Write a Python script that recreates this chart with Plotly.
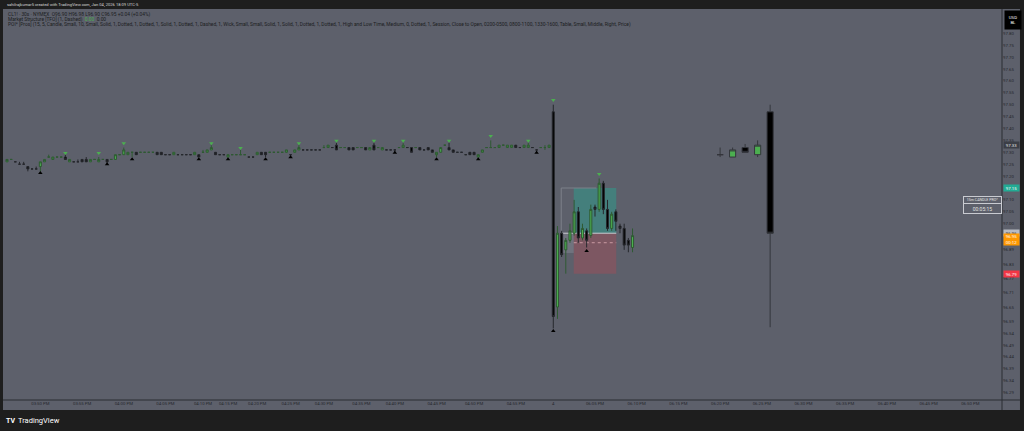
import plotly.graph_objects as go

# ---------------- data ----------------
# 30s bars before the session break (bar index -131 .. -1)
pre_open = [97.26, 97.27, 97.26, 97.25, 97.25, 97.24, 97.23, 97.23, 97.24, 97.26,
            97.28, 97.27, 97.28, 97.28, 97.28, 97.26, 97.26, 97.26, 97.27, 97.27,
            97.26, 97.27, 97.26, 97.27, 97.27, 97.27, 97.27, 97.29, 97.29, 97.29,
            97.30, 97.30, 97.30, 97.30, 97.30, 97.30, 97.30, 97.30, 97.29, 97.29,
            97.29, 97.29, 97.29, 97.29, 97.29, 97.29, 97.29, 97.30, 97.30, 97.31,
            97.30, 97.29, 97.29, 97.28, 97.29, 97.29, 97.29, 97.29, 97.28, 97.28,
            97.29, 97.30, 97.30, 97.30, 97.30, 97.30, 97.30, 97.30, 97.29, 97.30,
            97.31, 97.31, 97.31, 97.31, 97.31, 97.31, 97.32, 97.32, 97.32, 97.33,
            97.32, 97.32, 97.32, 97.32, 97.32, 97.32, 97.32, 97.31, 97.33, 97.32,
            97.31, 97.31, 97.31, 97.31, 97.32, 97.32, 97.32, 97.32, 97.32, 97.32,
            97.31, 97.32, 97.31, 97.29, 97.30, 97.33, 97.32, 97.31, 97.30, 97.30,
            97.29, 97.30, 97.30, 97.28, 97.30, 97.32, 97.32, 97.32, 97.32, 97.33,
            97.32, 97.32, 97.33, 97.32, 97.32, 97.32, 97.32, 97.31, 97.32, 97.32,
            97.32]
pre_high = [97.27, 97.27, 97.26, 97.26, 97.26, 97.24, 97.23, 97.24, 97.26, 97.27,
            97.29, 97.28, 97.28, 97.28, 97.29, 97.27, 97.26, 97.27, 97.27, 97.28,
            97.27, 97.27, 97.28, 97.27, 97.27, 97.27, 97.29, 97.29, 97.32, 97.30,
            97.30, 97.30, 97.30, 97.30, 97.30, 97.30, 97.30, 97.30, 97.29, 97.29,
            97.30, 97.29, 97.29, 97.29, 97.29, 97.30, 97.29, 97.31, 97.31, 97.33,
            97.30, 97.29, 97.29, 97.29, 97.29, 97.29, 97.31, 97.29, 97.28, 97.28,
            97.30, 97.30, 97.30, 97.30, 97.30, 97.30, 97.30, 97.31, 97.29, 97.31,
            97.33, 97.31, 97.31, 97.31, 97.31, 97.31, 97.33, 97.33, 97.32, 97.34,
            97.32, 97.32, 97.32, 97.32, 97.32, 97.32, 97.32, 97.32, 97.34, 97.32,
            97.32, 97.31, 97.31, 97.31, 97.32, 97.34, 97.32, 97.32, 97.32, 97.32,
            97.31, 97.32, 97.31, 97.30, 97.32, 97.33, 97.34, 97.31, 97.30, 97.30,
            97.29, 97.30, 97.30, 97.29, 97.31, 97.32, 97.35, 97.32, 97.33, 97.33,
            97.33, 97.33, 97.33, 97.32, 97.33, 97.34, 97.32, 97.31, 97.32, 97.33,
            97.33]
pre_low = [97.26, 97.27, 97.26, 97.25, 97.25, 97.22, 97.23, 97.23, 97.22, 97.26,
           97.28, 97.27, 97.28, 97.28, 97.27, 97.26, 97.26, 97.26, 97.26, 97.26,
           97.26, 97.27, 97.26, 97.27, 97.25, 97.27, 97.27, 97.29, 97.29, 97.29,
           97.28, 97.29, 97.30, 97.30, 97.30, 97.30, 97.29, 97.29, 97.29, 97.29,
           97.29, 97.29, 97.29, 97.29, 97.29, 97.29, 97.28, 97.30, 97.30, 97.31,
           97.29, 97.29, 97.29, 97.28, 97.29, 97.29, 97.29, 97.29, 97.28, 97.28,
           97.29, 97.29, 97.28, 97.30, 97.30, 97.30, 97.30, 97.30, 97.28, 97.30,
           97.31, 97.31, 97.31, 97.31, 97.31, 97.31, 97.32, 97.32, 97.32, 97.31,
           97.32, 97.32, 97.31, 97.31, 97.32, 97.32, 97.31, 97.31, 97.31, 97.32,
           97.31, 97.31, 97.31, 97.30, 97.32, 97.32, 97.32, 97.30, 97.32, 97.31,
           97.31, 97.31, 97.30, 97.28, 97.30, 97.33, 97.31, 97.30, 97.30, 97.30,
           97.29, 97.29, 97.29, 97.28, 97.30, 97.32, 97.32, 97.32, 97.32, 97.33,
           97.32, 97.32, 97.32, 97.32, 97.32, 97.32, 97.32, 97.30, 97.32, 97.31,
           97.32]
pre_close = [97.27, 97.27, 97.26, 97.25, 97.25, 97.23, 97.23, 97.23, 97.26, 97.27,
             97.28, 97.28, 97.28, 97.28, 97.27, 97.27, 97.26, 97.26, 97.26, 97.26,
             97.27, 97.27, 97.27, 97.27, 97.26, 97.27, 97.29, 97.29, 97.31, 97.30,
             97.30, 97.29, 97.30, 97.30, 97.30, 97.30, 97.29, 97.29, 97.29, 97.29,
             97.30, 97.29, 97.29, 97.29, 97.29, 97.30, 97.28, 97.30, 97.31, 97.32,
             97.29, 97.29, 97.29, 97.29, 97.29, 97.29, 97.29, 97.29, 97.28, 97.28,
             97.30, 97.29, 97.29, 97.30, 97.30, 97.30, 97.30, 97.31, 97.29, 97.31,
             97.32, 97.31, 97.31, 97.31, 97.31, 97.31, 97.32, 97.33, 97.32, 97.31,
             97.32, 97.32, 97.31, 97.31, 97.32, 97.32, 97.31, 97.32, 97.31, 97.32,
             97.32, 97.31, 97.31, 97.31, 97.32, 97.33, 97.32, 97.30, 97.32, 97.31,
             97.31, 97.31, 97.30, 97.30, 97.32, 97.33, 97.31, 97.30, 97.30, 97.30,
             97.29, 97.29, 97.29, 97.29, 97.31, 97.32, 97.32, 97.32, 97.33, 97.33,
             97.33, 97.33, 97.32, 97.32, 97.33, 97.33, 97.32, 97.31, 97.32, 97.32,
             97.33]

# 30s bars of the new session (bar index 0 .. 19)
post_open = [97.47, 96.65, 96.96, 96.89, 96.93, 96.96, 97.05, 96.94, 96.97, 96.95,
             97.07, 97.06, 97.17, 97.06, 96.98, 97.05, 96.99, 96.98, 96.93, 96.90]
post_high = [97.50, 96.99, 96.97, 96.94, 97.00, 97.10, 97.07, 97.00, 96.98, 97.08,
             97.08, 97.19, 97.18, 97.10, 97.05, 97.06, 97.00, 97.00, 96.94, 96.98]
post_low = [96.56, 96.60, 96.86, 96.79, 96.92, 96.95, 96.92, 96.93, 96.90, 96.94,
            97.03, 97.05, 97.04, 96.97, 96.97, 96.97, 96.96, 96.89, 96.88, 96.88]
post_close = [96.61, 96.96, 96.87, 96.93, 96.97, 97.05, 96.94, 96.98, 96.93, 97.06,
              97.06, 97.17, 97.06, 96.98, 97.04, 97.01, 96.98, 96.91, 96.91, 96.95]

# higher-timeframe (15m) candles projected to the right
htf_x = [40, 43, 46, 49, 52]
htf_open = [97.29, 97.28, 97.32, 97.29, 97.47]
htf_high = [97.32, 97.32, 97.335, 97.35, 97.50]
htf_low = [97.28, 97.28, 97.30, 97.28, 96.565]
htf_close = [97.29, 97.31, 97.30, 97.33, 96.96]

# market-structure swing markers
swing_high_x = [-117, -109, -103, -82, -75, -61, -52, -43, -36, -25, -15, -6, 0, 11]
swing_high_y = [97.297, 97.297, 97.338, 97.338, 97.318, 97.338, 97.349, 97.349,
                97.349, 97.349, 97.368, 97.349, 97.520, 97.209]
swing_low_x = [-123, -107, -101, -85, -78, -69, -63, -38, -28, -18, -4, 0, 8]
swing_low_y = [97.213, 97.250, 97.271, 97.271, 97.271, 97.271, 97.279, 97.298,
               97.271, 97.271, 97.298, 96.549, 96.885]

# position drawing levels
pos_entry = 96.96
pos_target = 97.15
pos_stop = 96.79
pos_mid = 96.92
pos_bars = [4.9, 15.1]
range_box = [1.9, 96.877, 10.3]

# time axis
time_tick_idx = [-123, -113, -103, -93, -84, -78, -71, -63, -55, -46, -38, -28, -19, -9,
                 0, 10, 20, 30, 40, 50, 60, 70, 80, 90, 100]
time_tick_txt = ["03:50 PM", "03:55 PM", "04:00 PM", "04:05 PM", "04:10 PM", "04:15 PM",
                 "04:20 PM", "04:25 PM", "04:30 PM", "04:35 PM", "04:40 PM", "04:45 PM",
                 "04:50 PM", "04:55 PM", "4", "06:05 PM", "06:10 PM", "06:15 PM",
                 "06:20 PM", "06:25 PM", "06:30 PM", "06:35 PM", "06:40 PM", "06:45 PM",
                 "06:50 PM"]
# price axis (97.15 sits under the target label)
price_ticks = [97.80, 97.75, 97.70, 97.65, 97.60, 97.55, 97.50, 97.45, 97.40, 97.35,
               97.30, 97.25, 97.20, 97.10, 97.05, 97.00, 96.89, 96.83, 96.77,
               96.71, 96.65, 96.59, 96.54, 96.49, 96.44, 96.39, 96.34, 96.29]

# price-scale labels: value, background, text colour
scale_labels = [(97.33, "#3b3e46", "#e8e8e8"), (97.15, "#22ab94", "#ffffff"),
                (96.96, "#b8bbc3", "#1e1e1e"), (96.79, "#f23645", "#ffffff")]
last_price = 96.95
countdown = "00:12"

# ---------------- styling ----------------
PANE = "#5d606b"
DARK = "#1e1e1e"
AXTXT = "#25272c"
GREEN = "#4caf50"
WICK = "#26282d"
FONT = "Roboto"
X_RANGE = [-131.96, 107.6]
Y_RANGE = [96.2592, 97.9021]

x_all = list(range(-len(pre_open), 0)) + list(range(len(post_open)))

fig = go.Figure()

fig.add_trace(go.Candlestick(
    x=x_all,
    open=pre_open + post_open, high=pre_high + post_high,
    low=pre_low + post_low, close=pre_close + post_close,
    increasing=dict(fillcolor=GREEN, line=dict(color="#2f5a33", width=1)),
    decreasing=dict(fillcolor="#000000", line=dict(color=WICK, width=1)),
    whiskerwidth=0, hoverinfo="skip", showlegend=False))

fig.add_trace(go.Candlestick(
    x=htf_x, open=htf_open, high=htf_high, low=htf_low, close=htf_close,
    xaxis="x2",
    increasing=dict(fillcolor=GREEN, line=dict(color="#34363c", width=1)),
    decreasing=dict(fillcolor="#000000", line=dict(color="#34363c", width=1)),
    whiskerwidth=0, hoverinfo="skip", showlegend=False))

fig.add_trace(go.Scatter(
    x=swing_high_x, y=swing_high_y, mode="markers",
    marker=dict(symbol="triangle-down", size=4, color=GREEN, line=dict(width=0)),
    hoverinfo="skip", showlegend=False))
fig.add_trace(go.Scatter(
    x=swing_low_x, y=swing_low_y, mode="markers",
    marker=dict(symbol="triangle-up", size=4, color="#000000", line=dict(width=0)),
    hoverinfo="skip", showlegend=False))

shapes = []
# background for axis strips
shapes.append(dict(type="rect", xref="paper", yref="paper", x0=0, x1=1.018,
                   y0=-0.0256, y1=1, fillcolor=PANE, line=dict(width=0), layer="below"))
# separators
shapes.append(dict(type="line", xref="paper", yref="paper", x0=1.0, x1=1.0,
                   y0=-0.0256, y1=1, line=dict(color="#2b2d33", width=1)))
shapes.append(dict(type="line", xref="paper", yref="paper", x0=0, x1=1.018,
                   y0=0, y1=0, line=dict(color="#2b2d33", width=1)))
# position tool
shapes.append(dict(type="rect", xref="x", yref="y", x0=pos_bars[0], x1=pos_bars[1],
                   y0=pos_entry, y1=pos_target, fillcolor="rgba(34,171,148,0.42)",
                   line=dict(width=0), layer="below"))
shapes.append(dict(type="rect", xref="x", yref="y", x0=pos_bars[0], x1=pos_bars[1],
                   y0=pos_stop, y1=pos_entry, fillcolor="rgba(242,54,69,0.22)",
                   line=dict(width=0), layer="below"))
shapes.append(dict(type="rect", xref="x", yref="y", x0=range_box[0], x1=pos_bars[0],
                   y0=range_box[1], y1=pos_entry, fillcolor="rgba(150,153,163,0.35)",
                   line=dict(width=0), layer="below"))
shapes.append(dict(type="line", xref="x", yref="y", x0=range_box[0], x1=range_box[0],
                   y0=range_box[1], y1=pos_target, line=dict(color="#7d808a", width=1),
                   layer="below"))
shapes.append(dict(type="line", xref="x", yref="y", x0=range_box[0], x1=range_box[2],
                   y0=pos_target, y1=pos_target, line=dict(color="#7d808a", width=1),
                   layer="below"))
shapes.append(dict(type="line", xref="x", yref="y", x0=range_box[0], x1=pos_bars[1],
                   y0=pos_entry, y1=pos_entry, line=dict(color="#c9cbd1", width=1),
                   layer="below"))
shapes.append(dict(type="line", xref="x", yref="y", x0=pos_bars[0], x1=pos_bars[1],
                   y0=pos_mid, y1=pos_mid, line=dict(color="#c99aa2", width=1, dash="dot"),
                   layer="below"))

annotations = []


def px_x(px):
    return (px - 3) / 999.0


def px_y(py):
    return (400 - py) / 391.0


# header / legend
annotations.append(dict(xref="paper", yref="paper", x=px_x(5), y=px_y(4.5), xanchor="left",
                        yanchor="middle", showarrow=False,
                        text="sahilrajkumar5 created with TradingView.com, Jan 04, 2026 18:09 UTC-5",
                        font=dict(size=4.1, color="#d6d6d6", family=FONT)))
legend_lines = [
    "CL1! · 30s · NYMEX  O96.90 H96.98 L96.90 C96.95 +0.04 (+0.04%)",
    "Market Structure [TFO] (1, Dashed)  <span style='color:#4caf50'>0.00</span>  0.00",
    "POI* [Pros] (15, 5, Candle, Small, 10, Small, Solid, 1, Dotted, 1, Dotted, 1, Solid, 1, "
    "Dotted, 1, Dashed, 1, Wick, Small, Small, Solid, 1, Solid, 1, Dotted, 1, Dotted, 1, "
    "High and Low Time, Medium, 0, Dotted, 1, Session, Close to Open, 0200-0500, 0800-1100, "
    "1330-1600, Table, Small, Middle, Right, Price)",
]
for k, line in enumerate(legend_lines):
    annotations.append(dict(xref="paper", yref="paper", x=px_x(6), y=px_y(14.7 + 4.7 * k),
                            xanchor="left", yanchor="middle", showarrow=False, text=line,
                            font=dict(size=4.85, color="#1c1d21", family=FONT)))

# price scale labels
annotations.append(dict(xref="paper", yref="paper", x=px_x(1004), y=px_y(10),
                        xanchor="left", yanchor="top", showarrow=False, text="USD<br>BL",
                        bgcolor="#000000", width=14, height=16, align="center",
                        font=dict(size=4.3, color="#ffffff", family=FONT)))
for val, bg, fg in scale_labels:
    annotations.append(dict(xref="paper", yref="y", x=px_x(1003), y=val, xanchor="left",
                            yanchor="middle", showarrow=False, text=f"{val:.2f}",
                            bgcolor=bg, width=15, height=6, borderpad=0,
                            font=dict(size=4.3, color=fg, family=FONT)))
annotations.append(dict(xref="paper", yref="y", x=px_x(1003), y=last_price, xanchor="left",
                        yanchor="top", yshift=3, showarrow=False,
                        text=f"{last_price:.2f}<br>{countdown}", bgcolor="#ff9800",
                        width=15, height=11, borderpad=0,
                        font=dict(size=4.3, color="#ffffff", family=FONT)))

# HTF info box
annotations.append(dict(xref="paper", yref="paper", x=px_x(963), y=px_y(196), xanchor="left",
                        yanchor="top", showarrow=False, text="15m CANDLE PRO*",
                        width=37, height=6, bordercolor="#c9cbd1", borderwidth=1, borderpad=0,
                        font=dict(size=3.6, color="#e0e0e0", family=FONT)))
annotations.append(dict(xref="paper", yref="paper", x=px_x(963), y=px_y(203), xanchor="left",
                        yanchor="top", showarrow=False, text="00:05:15",
                        width=37, height=9, bordercolor="#c9cbd1", borderwidth=1, borderpad=0,
                        font=dict(size=5, color="#e0e0e0", family=FONT)))

# footer logo
annotations.append(dict(xref="paper", yref="paper", x=px_x(4), y=px_y(420.5), xanchor="left",
                        yanchor="middle", showarrow=False, text="<b>TV</b>",
                        font=dict(size=7, color="#ffffff", family=FONT)))
annotations.append(dict(xref="paper", yref="paper", x=px_x(16), y=px_y(420.5), xanchor="left",
                        yanchor="middle", showarrow=False, text="TradingView",
                        font=dict(size=7.5, color="#ffffff", family=FONT)))

fig.update_layout(
    template="none",
    width=1024, height=431,
    margin=dict(l=3, r=22, t=9, b=31, autoexpand=False),
    paper_bgcolor=DARK, plot_bgcolor=PANE,
    showlegend=False, boxgap=0.3,
    shapes=shapes, annotations=annotations,
    xaxis=dict(range=X_RANGE, tickmode="array", tickvals=time_tick_idx, ticktext=time_tick_txt,
               showgrid=False, zeroline=False, ticks="", showline=False, automargin=False,
               tickfont=dict(size=4.3, color=AXTXT, family=FONT),
               rangeslider=dict(visible=False), fixedrange=True),
    xaxis2=dict(range=X_RANGE, overlaying="x", visible=False, automargin=False,
                rangeslider=dict(visible=False), fixedrange=True),
    yaxis=dict(range=Y_RANGE, side="right", tickmode="array", tickvals=price_ticks,
               ticktext=[f"{v:.2f}" for v in price_ticks], showgrid=False, zeroline=False,
               ticks="", showline=False, automargin=False,
               tickfont=dict(size=4.3, color=AXTXT, family=FONT),
               fixedrange=True),
)

fig.write_html("out.html", config={"displayModeBar": False},
               post_script="document.body.style.margin='0';document.body.style.overflow='hidden';"
                           "document.body.style.background='#1e1e1e';")
